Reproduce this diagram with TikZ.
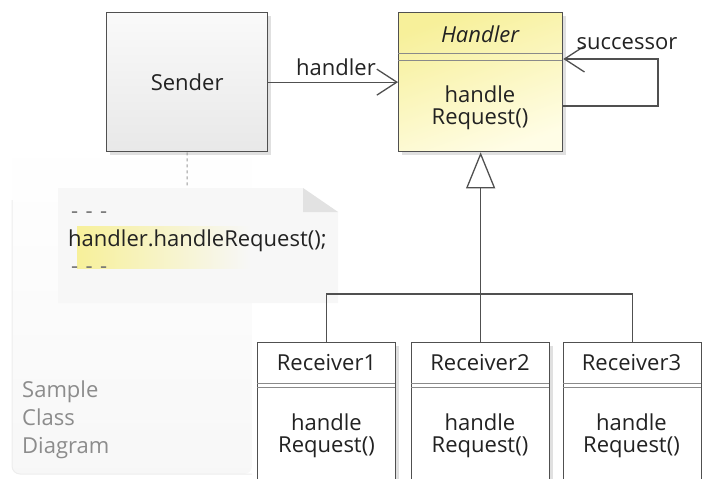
\documentclass[tikz,border=0pt]{standalone}
\usepackage{fontspec}
\setmainfont{Open Sans}
\usetikzlibrary{arrows.meta,shadows}
\definecolor{bord}{HTML}{505050}
\definecolor{sepc}{HTML}{8A8A8A}
\definecolor{notefill}{HTML}{F7F7F7}
\definecolor{foldc}{HTML}{E2E2E2}
\definecolor{hyel}{HTML}{F7F09A}
\definecolor{hyel2}{HTML}{FFFDE6}
\definecolor{txt}{HTML}{222222}
\tikzset{
  lbl/.style={font=\fontsize{22}{25}\selectfont, text=txt, inner sep=0pt},
  boxshadow/.style={drop shadow={shadow xshift=3pt, shadow yshift=-3pt, opacity=.12, fill=black}},
  classbox/.style={draw=bord, line width=1.3pt, anchor=north west, inner sep=0pt, boxshadow},
  sendbox/.style={classbox, top color=black!2, bottom color=black!9},
  handbox/.style={classbox, shading=axis, top color=hyel, bottom color=hyel2, shading angle=20},
  recvbox/.style={classbox, fill=white},
  sepline/.style={draw=sepc, line width=1pt},
  conn/.style={draw=bord, line width=1.3pt},
  assoc/.style={conn, -{Straight Barb[length=20pt,width=26pt,line width=1.3pt]}},
  gen/.style={conn, -{Triangle[open,length=36pt,width=29pt,line width=1.3pt,fill=white]}},
}
\begin{document}
\begin{tikzpicture}[x=1pt,y=-1pt]
\useasboundingbox (0,0) rectangle (702,479);
% faint background frame
\shade[top color=white, bottom color=black!3, rounded corners=8pt] (12,135) rectangle (252,474);
\draw[black!7, line width=1pt, rounded corners=8pt] (12,200) -- (12,474) -- (252,474);
\node[lbl, text=black!45, anchor=base west] (s1) at (22,397) {Sample};
\node[lbl, text=black!45, anchor=base west] (s2) at (22,425) {Class};
\node[lbl, text=black!45, anchor=base west] (s3) at (22,453) {Diagram};

% note
\fill[notefill] (58,188) -- (303,188) -- (338,212) -- (338,303) -- (58,303) -- cycle;
\fill[foldc] (303,188) -- (338,212) -- (303,212) -- cycle;
\shade[left color=hyel, right color=notefill] (77,226) rectangle (250,268);
\coordinate (notetop) at (187,188);
\node[lbl, text=black!55, anchor=west] (d1) at (71,215) {-\,\,-\,\,-};
\node[lbl, anchor=west] (code) at (68,241) {handler.handleRequest();};
\node[lbl, text=black!55, anchor=west] (d2) at (71,270) {-\,\,-\,\,-};

% Sender
\node[sendbox, minimum width=161pt, minimum height=139pt] (sender) at (106,12) {};
\node[lbl] (sendert) at (sender.center) {Sender};
\draw[black!40, line width=1pt, dash pattern=on 3pt off 3pt] (sender.south) -- (notetop);

% Handler
\node[handbox, minimum width=164pt, minimum height=139pt] (handler) at (398,12) {};
\node[lbl, font=\fontsize{22}{25}\selectfont\itshape] (hname) at (480,34) {Handler};
\draw[sepline] (398,53) -- (562,53);
\draw[sepline] (398,60) -- (562,60);
\node[lbl] (hop1) at (480,94) {handle};
\node[lbl] (hop2) at (480,119) {Request()};

% association Sender -> Handler
\draw[assoc] (sender.east) -- (handler.west);
\node[lbl] (hlab) at (336,67) {handler};

% self association
\coordinate (lp1) at (658,106);
\coordinate (lp2) at (658,59);
\draw[assoc] (handler.east |- lp1) -- (lp1) -- (lp2) -- (handler.east |- lp2);
\node[lbl] (slab) at (627,44) {successor};

% Receivers
\foreach \n/\cx/\x in {1/326.5/257, 2/480/411, 3/631.5/563} {
  \node[recvbox, minimum width=138pt, minimum height=140pt] (r\n) at (\x,342) {};
  \node[lbl] (rn\n) at (\cx,363) {Receiver\n};
  \draw[sepline] (\x,383) -- (\x+138,383);
  \draw[sepline] (\x,387) -- (\x+138,387);
  \node[lbl] (ra\n) at (\cx,422) {handle};
  \node[lbl] (rb\n) at (\cx,447) {Request()};
}

% generalization
\coordinate (hub) at (480,294);
\draw[conn] (r1.north) |- (hub) -| (r3.north);
\draw[gen] (r2.north) -- (handler.south);
\end{tikzpicture}
\end{document}
